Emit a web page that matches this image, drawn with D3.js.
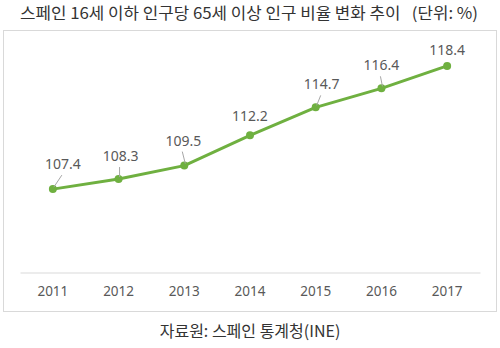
<!DOCTYPE html>
<html><head><meta charset="utf-8">
<script src="https://cdn.jsdelivr.net/npm/d3@7"></script>
<style>body{margin:0;background:#fff}svg{display:block}</style>
</head><body>
<svg id="c" width="500" height="348"></svg>
<script>
const years = ["2011","2012","2013","2014","2015","2016","2017"];
const values = [107.4, 108.3, 109.5, 112.2, 114.7, 116.4, 118.4];
const title = "스페인 16세 이하 인구당 65세 이상 인구 비율 변화 추이   (단위: %)";
const source = "자료원: 스페인 통계청(INE)";

const svg = d3.select("#c");
const font = "'Noto Sans CJK KR','Noto Sans',sans-serif";
const numFont = "'Noto Sans','Open Sans',sans-serif";
const green = "#6fb040";

svg.append("rect").attr("x",3.5).attr("y",30.5).attr("width",493).attr("height",281)
  .attr("fill","#fff").attr("stroke","#d9d9d9").attr("stroke-width",1);

const t = svg.append("text").attr("x",20).attr("y",19)
  .attr("font-family",font).attr("font-size",16).attr("fill","#333")
  .style("white-space","pre").text(title);
t.attr("textLength",458).attr("lengthAdjust","spacingAndGlyphs");

const x = d3.scaleBand().domain(years).range([20,480]);
const y = d3.scaleLinear().domain([100,120]).range([272,48]);

const ax = svg.append("g").attr("transform","translate(0,272.5)")
  .call(d3.axisBottom(x).tickSize(0).tickPadding(14));
ax.select(".domain").attr("stroke","#d9d9d9");
ax.selectAll("text").attr("font-family",numFont).attr("font-size",13.5).attr("fill","#595959");

const cx = d => x(d) + x.bandwidth()/2;
const data = years.map((yr,i)=>({yr, v: values[i]}));

const line = d3.line().x(d=>cx(d.yr)).y(d=>y(d.v));
svg.append("path").datum(data).attr("d",line).attr("fill","none")
  .attr("stroke",green).attr("stroke-width",3).attr("stroke-linejoin","round");

svg.selectAll("circle.p").data(data).join("circle").attr("class","p")
  .attr("cx",d=>cx(d.yr)).attr("cy",d=>y(d.v)).attr("r",4).attr("fill",green);

// label offsets (dx, dy) relative to point
const offs = [[10,-18],[2,-16],[-1,-18],[0,-12],[6,-16],[0,-16],[0,-9]];
const leaders = [true,true,true,false,true,true,false];
data.forEach((d,i)=>{
  const px = cx(d.yr), py = y(d.v);
  const lx = px+offs[i][0], ly = py+offs[i][1];
  if (leaders[i]) {
    svg.append("line").attr("x1",lx-1).attr("y1",ly+4).attr("x2",px+1).attr("y2",py-2)
      .attr("stroke","#a6a6a6").attr("stroke-width",1);
  }
  svg.append("text").attr("x",lx).attr("y",ly-2).attr("text-anchor","middle")
    .attr("font-family",numFont).attr("font-size",14).attr("fill","#595959").text(d.v.toFixed(1));
});

svg.append("text").attr("x",250).attr("y",337).attr("text-anchor","middle")
  .attr("font-family",font).attr("font-size",16).attr("fill","#333").text(source);
</script>
</body></html>
